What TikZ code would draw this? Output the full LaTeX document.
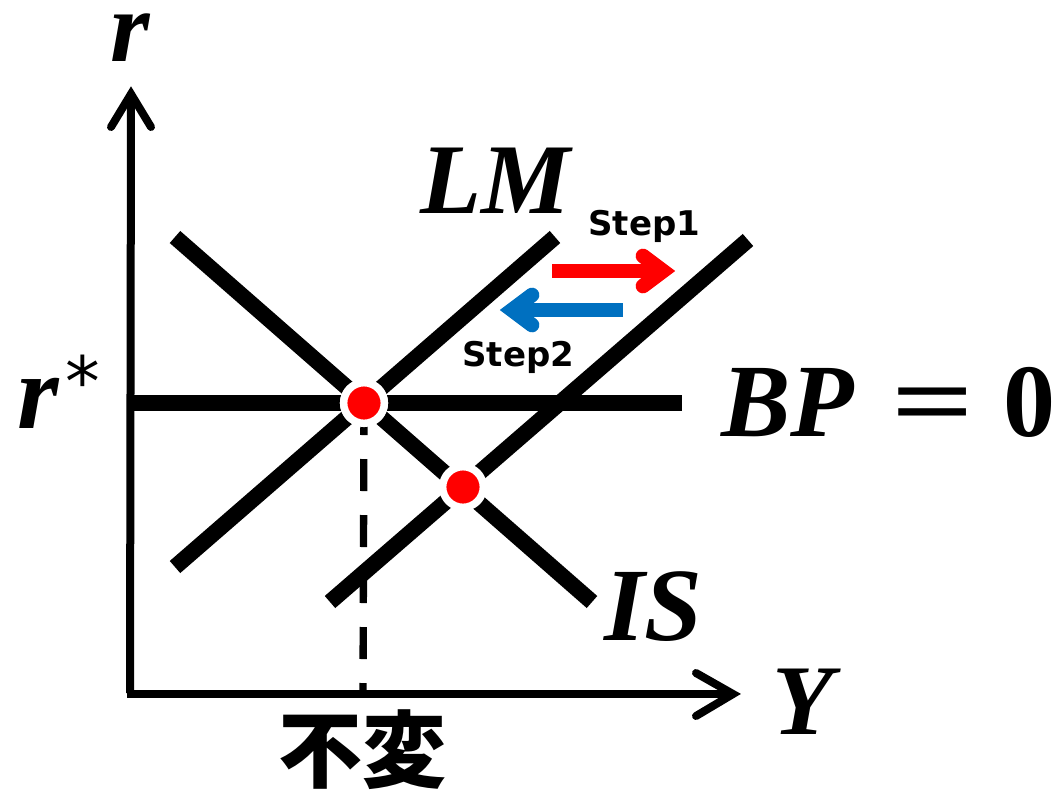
\documentclass[tikz,border=0pt]{standalone}
\usepackage{graphicx}
\usepackage{fontspec}
\newfontfamily\cjk{Noto Sans CJK JP}
\newfontfamily\stepfont{DejaVu Sans}
\newfontfamily\lblfont{Liberation Serif}
\newcommand{\bi}[1]{{\lblfont\bfseries\itshape #1}}
\newcommand{\bu}[1]{{\lblfont\bfseries #1}}
\begin{document}
\begin{tikzpicture}[x=0.75pt,y=-0.75pt,
  axisline/.style={line width=6pt},
  curve/.style={line width=12pt},
  axishead/.style={line width=6pt,line cap=round,line join=miter},
  shaft/.style={line width=11pt},
  shafthead/.style={line width=11pt,line cap=round,line join=miter},
  dot/.style={circle,fill=red,draw=white,line width=5.6pt,minimum size=30.5pt,inner sep=0pt},
  mathlbl/.style={inner sep=0pt,font=\fontsize{75}{80}\selectfont},
  biglbl/.style={inner sep=0pt,font=\fontsize{78}{82}\selectfont},
  rlbl/.style={inner sep=0pt,text height=0.5em,font=\fontsize{80}{84}\selectfont},
  toplbl/.style={inner sep=0pt,text height=0.5em,font=\fontsize{76}{80}\selectfont},
  steplbl/.style={inner sep=0pt,font=\stepfont\bfseries\fontsize{25.5}{28}\selectfont},
  guide/.style={line width=5.5pt,dash pattern=on 24pt off 18pt}
]
\useasboundingbox (0,0) rectangle (1058,790);
% coordinates
\coordinate (O) at (130,693);
\coordinate (ytip) at (131,94);
\coordinate (xtip) at (733,694);
\coordinate (lmA) at (175,567);
\coordinate (lmB) at (555,237);
\coordinate (lmC) at (330,602);
\coordinate (lmD) at (748,240);
\coordinate (isA) at (175,237);
\coordinate (isB) at (592,602);
\coordinate (bpA) at (133,403);
\coordinate (bpB) at (682,403);
\coordinate (foot) at (363,693);
% axes
\draw[axisline] (O) -- (ytip);
\draw[axishead] (111,127) -- (ytip) -- (151,127);
\draw[axisline] (127,694) -- (xtip);
\draw[axishead] (696,673) -- (xtip) -- (696,716);
% curves
\draw[curve] (lmA) -- (lmB);
\draw[curve] (lmC) -- (lmD);
\draw[curve] (isA) -- (isB);
\draw[curve] (bpA) -- (bpB);
% dots
\node[dot] (E0) at (364,403) {};
\node[dot] (E1) at (463,487) {};
\draw[guide] (E0.center) -- (foot);
\node[dot] at (E0) {};
% step arrows
\coordinate (rS) at (552,271);
\coordinate (rT) at (663,271);
\draw[shaft,red] (rS) -- (rT);
\draw[shafthead,red] (643,256) -- (rT) -- (643,286);
\coordinate (bS) at (623,310);
\coordinate (bT) at (512,310);
\draw[shaft,color={rgb,255:red,0;green,112;blue,192}] (bS) -- (bT);
\draw[shafthead,color={rgb,255:red,0;green,112;blue,192}] (532,295) -- (bT) -- (532,325);
% labels
\node[toplbl,anchor=base] (lr) at (130,61) {\bi{r}};
\node[rlbl,anchor=base west] (lrs) at (17,428) {\bi{r}\hspace{5pt}\raisebox{16pt}{\stepfont\fontsize{52}{52}\selectfont *}};
\node[mathlbl,anchor=base west] (llm) at (420,213) {\bi{LM}};
\node[biglbl,anchor=base west] (lbp) at (721,436) {\bi{BP}\hspace{28pt}\scalebox{1.4}[1]{\bu{=}}\hspace{22pt}\bu{0}};
\node[biglbl,anchor=base west] (lis) at (604,640) {\bi{IS}};
\node[mathlbl,anchor=base west] (ly) at (772,734) {\bi{Y}};
\node[inner sep=0pt,font=\cjk\bfseries\fontsize{63}{66}\selectfont] (lf) at (362,750) {不変};
\node[steplbl,anchor=base west] (s1) at (588,235) {Step1};
\node[steplbl,anchor=base west] (s2) at (462,366) {Step2};
\end{tikzpicture}
\end{document}
